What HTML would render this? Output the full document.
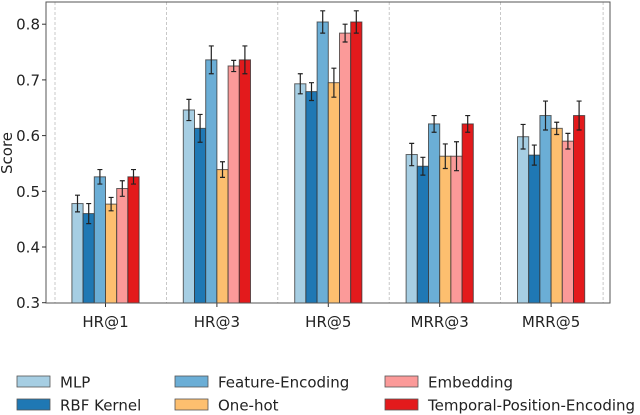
<!DOCTYPE html>
<html><head><meta charset="utf-8"><style>
html,body{margin:0;padding:0;background:#fff;}
svg{display:block;font-family:"DejaVu Sans","Liberation Sans",sans-serif;}
</style></head><body>
<svg id="chart" width="640" height="415" viewBox="0 0 640 415">
<g id="grid"></g>
<g id="bars"></g>
<g id="axes"></g>
<g id="legend"></g>
</svg>
<script>
const categories = ["HR@1","HR@3","HR@5","MRR@3","MRR@5"];
const seriesNames = ["MLP","RBF Kernel","Feature-Encoding","One-hot","Embedding","Temporal-Position-Encoding"];
const mlp = [0.478,0.646,0.693,0.566,0.598];
const rbf = [0.460,0.613,0.679,0.545,0.565];
const feat = [0.526,0.736,0.804,0.621,0.636];
const onehot = [0.477,0.539,0.695,0.563,0.613];
const embed = [0.505,0.725,0.784,0.563,0.590];
const tpe = [0.526,0.736,0.804,0.621,0.636];
const mlpErr = [0.015,0.019,0.018,0.020,0.022];
const rbfErr = [0.018,0.025,0.016,0.016,0.018];
const featErr = [0.013,0.025,0.020,0.015,0.026];
const onehotErr = [0.012,0.014,0.026,0.022,0.011];
const embedErr = [0.014,0.010,0.016,0.026,0.014];
const tpeErr = [0.013,0.025,0.020,0.015,0.026];
const yTicks = [0.3,0.4,0.5,0.6,0.7,0.8];

const series=[mlp,rbf,feat,onehot,embed,tpe];
const errs=[mlpErr,rbfErr,featErr,onehotErr,embedErr,tpeErr];
const colors=["#a6cee3","#1f78b4","#6baed6","#fdbf6f","#fb9a99","#e31a1c"];
const NS="http://www.w3.org/2000/svg";
const L=46,R=610,T=2,B=303;
const y=v=>302.7-(v-0.3)*557;
const x=i=>105.5+i*111.4;
const bw=11.2;
function mk(tag,attrs,parent){const e=document.createElementNS(NS,tag);for(const k in attrs)e.setAttribute(k,attrs[k]);parent.appendChild(e);return e;}
const grid=document.getElementById('grid'),bars=document.getElementById('bars'),axes=document.getElementById('axes'),legend=document.getElementById('legend');
for(let i=0;i<=categories.length;i++){
  const gx=i<categories.length?x(i)-50.5:x(i-1)+61-9;
  const l=mk('line',{x1:gx,x2:gx,y1:T,y2:B,stroke:'#bbb','stroke-width':0.8,'stroke-dasharray':'3,2'},grid);
  
  
}
categories.forEach((c,i)=>{
  series.forEach((s,j)=>{
    const bx=x(i)-3*bw+j*bw;
    const r=mk('rect',{x:bx,y:y(s[i]),width:bw,height:B-y(s[i]),fill:colors[j],stroke:'#333','stroke-opacity':0.75,'stroke-width':1},bars);
    
    
    const cx=bx+bw/2,e=errs[j][i];
    const eb=mk('path',{d:`M${cx},${y(s[i]+e)}V${y(s[i]-e)}M${cx-2.5},${y(s[i]+e)}H${cx+2.5}M${cx-2.5},${y(s[i]-e)}H${cx+2.5}`,stroke:'#222','stroke-width':1.2,fill:'none'},bars);
    
    
  });
  const t=mk('text',{x:x(i),y:327,'text-anchor':'middle','font-size':15,fill:'#222'},axes);
  t.textContent=c;
  
  
  mk('line',{x1:x(i),x2:x(i),y1:B,y2:B+4,stroke:'#333'},axes);
});
const frame=mk('rect',{x:L,y:T,width:R-L,height:B-T,fill:'none',stroke:'#555','stroke-width':1},axes);


yTicks.forEach(v=>{
  mk('line',{x1:L-4,x2:L,y1:y(v),y2:y(v),stroke:'#333'},axes);
  const t=mk('text',{x:L-6,y:y(v)+5.5,'text-anchor':'end','font-size':15,fill:'#222'},axes);
  t.textContent=v.toFixed(1);
  
  
});
const yt=mk('text',{x:12,y:153,'text-anchor':'middle','font-size':15,fill:'#222',transform:'rotate(-90 12 153)'},axes);
yt.textContent='Score';


const lx=[17,175,385],ly=[382,405];
seriesNames.forEach((n,j)=>{
  const col=Math.floor(j/2),row=j%2;
  const g=mk('g',{},legend);
  
  
  mk('rect',{x:lx[col],y:ly[row]-6,width:33,height:11,fill:colors[j],stroke:'#555','stroke-width':0.8},g);
  const t=mk('text',{x:lx[col]+43,y:ly[row]+5.5,'font-size':15,fill:'#222'},g);
  t.textContent=n;
});
</script>
</body></html>
